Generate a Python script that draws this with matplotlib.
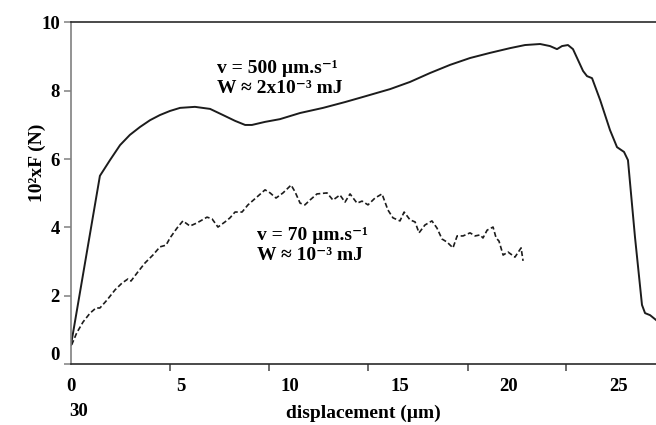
import matplotlib
matplotlib.use("Agg")
import matplotlib.pyplot as plt
from matplotlib.transforms import ScaledTranslation

# ---------------- data ----------------
# v = 500 um/s (solid)
solid_x = [0.00, 1.32, 1.78, 2.24, 2.69, 3.15, 3.61, 4.06, 4.52, 4.98, 5.66, 6.35, 6.94,
           7.49, 7.95, 8.26, 8.86, 9.54, 10.46, 11.51, 12.51, 13.33, 14.57, 15.48, 16.39,
           17.31, 18.22, 19.13, 20.05, 20.73, 21.42, 21.87, 22.19, 22.42, 22.69, 22.92,
           23.15, 23.38, 23.56, 23.79, 24.16, 24.61, 24.93, 25.25, 25.43, 25.75, 26.07,
           26.21, 26.44, 26.71]
solid_y = [0.56, 5.51, 5.97, 6.41, 6.71, 6.94, 7.14, 7.29, 7.41, 7.50, 7.53, 7.47, 7.29,
           7.12, 7.00, 7.00, 7.09, 7.17, 7.35, 7.50, 7.67, 7.82, 8.05, 8.26, 8.52,
           8.76, 8.96, 9.11, 9.25, 9.34, 9.37, 9.31, 9.22, 9.31, 9.34, 9.22,
           8.90, 8.58, 8.43, 8.37, 7.73, 6.85, 6.35, 6.21, 5.97, 3.72, 1.73,
           1.49, 1.43, 1.29]

# v = 70 um/s (dashed)
dashed_x = [0.03, 0.26, 0.55, 0.87, 1.14, 1.32, 1.64, 2.01, 2.33, 2.60, 2.74, 3.01, 3.38,
            3.74, 4.06, 4.34, 4.52, 4.84, 5.11, 5.43, 5.75, 6.21, 6.44, 6.71, 7.03, 7.26,
            7.49, 7.81, 8.08, 8.49, 8.86, 9.09, 9.36, 9.68, 10.05, 10.23, 10.46, 10.68,
            10.91, 11.23, 11.69, 11.96, 12.28, 12.51, 12.74, 13.06, 13.29, 13.56, 13.88,
            14.20, 14.47, 14.70, 15.02, 15.21, 15.48, 15.71, 15.89, 16.16, 16.48, 16.71,
            16.94, 17.17, 17.44, 17.63, 17.90, 18.22, 18.45, 18.68, 18.81, 19.00, 19.27,
            19.41, 19.54, 19.73, 19.95, 20.27, 20.55, 20.64]
dashed_y = [0.56, 0.91, 1.23, 1.49, 1.64, 1.64, 1.87, 2.17, 2.37, 2.49, 2.43, 2.66, 2.96,
            3.19, 3.43, 3.48, 3.69, 3.98, 4.19, 4.04, 4.13, 4.30, 4.25, 4.01, 4.16, 4.28,
            4.45, 4.45, 4.66, 4.89, 5.10, 5.01, 4.86, 5.01, 5.24, 5.04, 4.71, 4.66,
            4.80, 4.98, 5.01, 4.80, 4.95, 4.74, 4.98, 4.71, 4.77, 4.66, 4.86,
            4.98, 4.51, 4.28, 4.19, 4.45, 4.22, 4.16, 3.84, 4.07, 4.19, 3.98,
            3.66, 3.57, 3.40, 3.75, 3.75, 3.84, 3.75, 3.78, 3.69, 3.92, 4.01,
            3.69, 3.60, 3.19, 3.28, 3.13, 3.40, 3.02]

x_tick_values = [0, 5, 10, 15, 20, 25]
x_tick_labels = ["0", "5", "10", "15", "20", "25"]
x_tick_marks = [0, 4.52, 9.04, 13.56, 18.13, 22.6]
y_tick_values = [0, 2, 4, 6, 8, 10]
y_tick_labels = ["0", "2", "4", "6", "8", "10"]

label_solid = ["v = 500 µm.s⁻¹", "W ≈ 2x10⁻³ mJ"]
label_dashed = ["v = 70 µm.s⁻¹", "W ≈ 10⁻³ mJ"]
xlabel = "displacement (µm)"
ylabel = "10²xF (N)"
stray_label = "30"

# ---------------- style ----------------
plt.rcParams["font.family"] = ["Liberation Serif", "DejaVu Serif"]
plt.rcParams["font.weight"] = "bold"

W, H = 656, 425
fig = plt.figure(figsize=(W / 100, H / 100), dpi=100)
ax = fig.add_axes([71 / W, 1 - 364 / H, (656 - 71) / W, (364 - 22.5) / H])

ink = "#1c1c1c"
ax.plot(solid_x, solid_y, color=ink, lw=1.4, solid_joinstyle="round")
ax.plot(dashed_x, dashed_y, color=ink, lw=1.2, linestyle=(0, (3, 1.6)))

ax.set_xlim(0, 26.71)
ax.set_ylim(0, 10)

ax.spines["right"].set_visible(False)
ax.spines["left"].set_color("#808080")
ax.spines["left"].set_linewidth(1.2)
for s in ("top", "bottom"):
    ax.spines[s].set_color("#2a2a2a")
    ax.spines[s].set_linewidth(1.2)

fs = 13.5
ax.set_xticks(x_tick_values)
ax.set_xticklabels(x_tick_labels, fontsize=fs, fontweight="bold")
ax.set_xticks(x_tick_marks, minor=True)
ax.tick_params(axis="x", which="major", length=0, pad=10)
ax.tick_params(axis="x", which="minor", length=5, width=1.1, color="#444444", direction="out")
ax.set_yticks(y_tick_values)
ax.set_yticklabels(y_tick_labels, fontsize=fs, fontweight="bold")
ax.tick_params(axis="y", which="major", length=5, width=1.1, color="#808080", direction="out", pad=3)

# the "0" on the y axis sits a little above its tick in the reference
ylab0 = ax.get_yticklabels()[0]
ylab0.set_transform(ylab0.get_transform() + ScaledTranslation(0, 0.10, fig.dpi_scale_trans))

ax.set_xlabel(xlabel, fontsize=14, fontweight="bold")
ax.xaxis.set_label_coords(0.5, -0.118)
ax.set_ylabel(ylabel, fontsize=14, fontweight="bold")
ax.yaxis.set_label_coords(-0.058, 0.589)
ax.yaxis.label.set_va("center")

fig.text(79 / W, 1 - 412 / H, stray_label, fontsize=fs, fontweight="bold",
         ha="center", va="center")

tfs = 14
ax.text(6.67, 8.52, label_solid[0], fontsize=tfs, fontweight="bold", va="baseline")
ax.text(6.67, 7.94, label_solid[1], fontsize=tfs, fontweight="bold", va="baseline")
ax.text(8.49, 3.63, label_dashed[0], fontsize=tfs, fontweight="bold", va="baseline")
ax.text(8.49, 3.05, label_dashed[1], fontsize=tfs, fontweight="bold", va="baseline")

fig.savefig("out.png", dpi=100)
